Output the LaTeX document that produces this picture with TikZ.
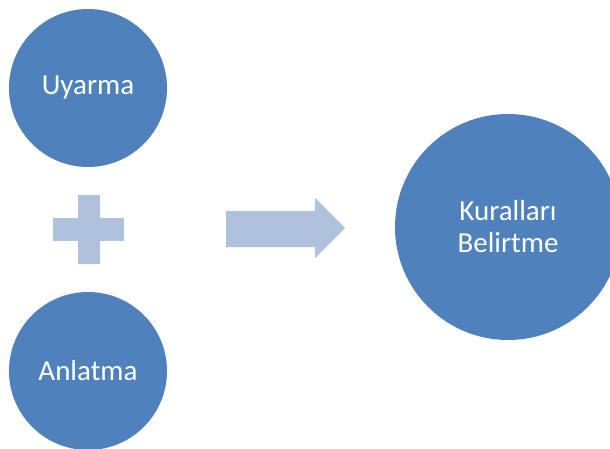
\documentclass[tikz,border=0pt]{standalone}
\usepackage{fontspec}
\setmainfont{Carlito}
\definecolor{discblue}{HTML}{4F81BD}
\definecolor{paleblue}{HTML}{B0C1DE}
\begin{document}
\begin{tikzpicture}[x=1pt,y=1pt,
  disc/.style={circle, fill=discblue, draw=none, text=white, align=center,
    inner sep=0pt, font=\fontsize{29}{32}\selectfont},
  pale/.style={fill=paleblue, draw=none}]
  \useasboundingbox (0,0) rectangle (610,448);
  \clip (0,0) rectangle (610,448);

  % the two inputs
  \node[disc, minimum size=158pt] (uyarma) at (88,360) {Uyarma};
  \node[disc, minimum size=158pt] (anlatma) at (88,77) {Anlatma};

  % the result
  \node[disc, minimum size=226pt] (kural) at (508,221) {Kuralları\\Belirtme};

  % plus sign between the inputs
  \fill[pale] (78,184) rectangle (100,253);
  \fill[pale] (53,207) rectangle (124,230);

  % block arrow towards the result
  \fill[pale] (226,201) -- (315,201) -- (315,190) -- (345,220)
    -- (315,250) -- (315,237) -- (226,237) -- cycle;
\end{tikzpicture}
\end{document}
